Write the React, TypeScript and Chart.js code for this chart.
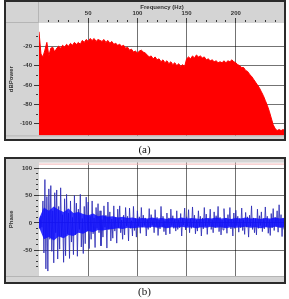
import React, { useEffect, useRef } from 'react';
import { Chart, registerables } from 'chart.js';

Chart.register(...registerables);

// ---------- data ----------
// (a) power spectrum, one value every 2 Hz from 0 to 250 Hz
const spectrumStepHz = 2;
const powerDb = [
  -5, -28, -31, -24, -16, -30, -22, -21, -26, -22,
  -20, -22, -19, -21, -18, -20, -17, -19, -16, -18,
  -16, -18, -14, -16, -13, -15, -12, -14, -12, -15,
  -13, -14, -15, -13, -16, -14, -17, -15, -18, -17,
  -19, -18, -20, -19, -22, -21, -24, -23, -26, -25,
  -27, -25, -24, -26, -27, -29, -31, -30, -33, -31,
  -34, -33, -36, -34, -37, -35, -38, -36, -39, -37,
  -40, -38, -41, -39, -41, -33, -31, -33, -30, -32,
  -29, -31, -30, -32, -31, -34, -33, -35, -34, -36,
  -35, -37, -36, -37, -35, -37, -35, -36, -34, -36,
  -37, -39, -40, -42, -42, -45, -46, -49, -51, -54,
  -57, -60, -63, -67, -71, -76, -81, -87, -94, -101,
  -105, -107, -106, -107, -106, -107,
];

// (b) phase, one value per Hz from 0 to 249 Hz
const phaseDeg = [
  6, -10, 12, -8, 40, -55, 79, -84, 48, -88,
  62, -30, 68, -52, 22, -73, 55, -18, 60, -66,
  30, -48, 64, -25, 15, -72, 44, -60, 52, -20,
  18, -65, 40, -35, 10, -58, 50, -22, 36, -61,
  25, -12, 52, -44, 8, -56, 30, -38, 47, -15,
  38, -47, 12, -30, 40, -20, 9, -45, 28, -10,
  35, -18, 22, -42, 6, -26, 31, -8, 14, -46,
  38, -12, 20, -33, 7, -28, 31, -15, 10, -37,
  25, -9, 31, -18, 5, -30, 14, -22, 28, -6,
  12, -33, 27, -10, 4, -24, 30, -14, 8, -26,
  22, -6, 11, -19, 28, -8, 14, -5, 9, -24,
  6, -12, 26, -9, 15, -4, 8, -18, 24, -7,
  10, -23, 5, -11, 30, -6, 12, -16, 4, -22,
  18, -8, 9, -20, 25, -5, 13, -10, 7, -15,
  22, -12, 6, -9, 17, -24, 8, -4, 27, -13,
  11, -6, 24, -18, 7, -10, 29, -8, 14, -20,
  5, -15, 22, -7, 12, -24, 9, -11, 28, -6,
  16, -21, 8, -5, 25, -12, 6, -18, 20, -9,
  13, -7, 30, -16, 10, -22, 5, -13, 26, -8,
  9, -19, 15, -6, 28, -11, 7, -24, 18, -10,
  23, -5, 12, -17, 8, -9, 27, -14, 6, -21,
  19, -8, 11, -26, 14, -6, 31, -12, 9, -18,
  7, -22, 25, -10, 13, -5, 20, -16, 8, -11,
  29, -7, 12, -19, 6, -23, 17, -9, 26, -14,
  10, -6, 22, -17, 33, -8, 15, -25, 9, -12,
];

// dense core of the phase band, every 5 Hz from 0 to 250 Hz
const coreStepHz = 5;
const coreUpper = [
  8, 28, 22, 30, 24, 20, 26, 18, 20, 16,
  14, 17, 12, 14, 11, 12, 10, 11, 9, 10,
  8, 9, 8, 10, 8, 9, 7, 9, 8, 10,
  8, 9, 8, 7, 9, 8, 10, 8, 9, 7,
  9, 8, 10, 8, 9, 7, 9, 8, 10, 8, 9,
];
const coreLower = [
  -8, -30, -26, -32, -25, -28, -22, -24, -18, -20,
  -15, -17, -13, -14, -12, -11, -10, -11, -9, -10,
  -9, -8, -9, -7, -9, -8, -10, -8, -9, -7,
  -9, -8, -10, -8, -9, -7, -9, -8, -10, -8,
  -9, -8, -7, -9, -8, -10, -8, -9, -7, -9, -8,
];

// axes
const freqMin = 0;
const freqMax = 250;
const freqLabels = [50, 100, 150, 200];
const powerMin = -112;
const powerMax = 4;
const powerLabels = [-20, -40, -60, -80, -100];
const phaseMin = -97;
const phaseMax = 110;
const phaseLabels = [100, 50, 0, -50];

// ---------- styles ----------
const GRAY = '#d4d4d4';
const GRID = 'rgba(0,0,0,0.55)';
const TICK = '#3a3a3a';
const FONT = { family: '"Liberation Sans", Arial, sans-serif', size: 6, weight: 'bold' as const };

const framePlugin = {
  id: 'frame',
  beforeDraw(chart: any) {
    const { ctx, width, height, chartArea: a } = chart;
    ctx.save();
    ctx.fillStyle = GRAY;
    ctx.fillRect(0, 0, width, height);
    ctx.fillStyle = '#ffffff';
    ctx.fillRect(a.left, a.top, a.right - a.left, a.bottom - a.top);
    ctx.strokeStyle = '#b5b5b5';
    ctx.lineWidth = 1;
    ctx.beginPath();
    if (a.top > 10) {
      ctx.moveTo(0, a.top - 0.5);
      ctx.lineTo(a.left, a.top - 0.5);
      ctx.moveTo(a.left - 0.5, 0);
      ctx.lineTo(a.left - 0.5, a.top);
    }
    if (height - a.bottom > 4) {
      ctx.moveTo(0, a.bottom + 0.5);
      ctx.lineTo(width, a.bottom + 0.5);
    }
    ctx.stroke();
    ctx.restore();
  },
  afterDraw(chart: any, _args: any, opts: any) {
    const { ctx, width, height, chartArea: a } = chart;
    ctx.save();
    if (opts && opts.topLine) {
      ctx.strokeStyle = opts.topLine;
      ctx.lineWidth = 1;
      ctx.beginPath();
      ctx.moveTo(a.left, a.top + 1.5);
      ctx.lineTo(a.right, a.top + 1.5);
      ctx.stroke();
    }
    ctx.strokeStyle = '#2b2b2b';
    ctx.lineWidth = 2;
    ctx.strokeRect(1, 1, width - 2, height - 2);
    ctx.restore();
  },
};

const keepTens = (lo: number, hi: number) => (s: any) => {
  s.ticks = s.ticks.filter((t: any) => t.value % 10 === 0 && t.value >= lo && t.value <= hi);
};

function configA(): any {
  const data = powerDb.map((y, i) => ({ x: i * spectrumStepHz, y }));
  return {
    type: 'line',
    data: {
      datasets: [
        {
          data,
          borderColor: '#ff0000',
          backgroundColor: '#ff0000',
          borderWidth: 1,
          pointRadius: 0,
          fill: 'start',
          tension: 0,
        },
      ],
    },
    options: {
      responsive: false,
      animation: false,
      events: [],
      layout: { padding: { left: 0, right: 1, top: 0, bottom: 2 } },
      plugins: { legend: { display: false }, tooltip: { enabled: false }, frame: {} },
      scales: {
        x: {
          type: 'linear',
          position: 'top',
          min: freqMin,
          max: freqMax,
          z: 1,
          afterBuildTicks: keepTens(freqMin + 1, freqMax - 1),
          afterFit: (s: any) => { s.height = 23; },
          border: { display: false },
          ticks: {
            stepSize: 10,
            autoSkip: false,
            maxRotation: 0,
            padding: 1,
            color: '#333',
            font: FONT,
            callback: (v: number) => (freqLabels.includes(v) ? String(v) : ''),
          },
          grid: {
            color: (c: any) => (freqLabels.includes(c.tick?.value) ? GRID : 'rgba(0,0,0,0)'),
            tickColor: TICK,
            tickLength: 5,
            tickBorderDash: (c: any) => (freqLabels.includes(c.tick?.value) ? [] : [0, 2, 2, 10]),
          },
          title: { display: true, text: 'Frequency (Hz)', color: '#333', font: FONT, padding: { top: 3.5, bottom: 0 } },
        },
        y: {
          type: 'linear',
          min: powerMin,
          max: powerMax,
          z: 1,
          afterBuildTicks: keepTens(-110, 0),
          afterFit: (s: any) => { s.width = 35; },
          border: { display: false },
          ticks: {
            stepSize: 10,
            autoSkip: false,
            padding: 2,
            color: '#333',
            font: FONT,
            callback: (v: number) => (powerLabels.includes(v) ? String(v) : ''),
          },
          grid: {
            color: (c: any) => (powerLabels.includes(c.tick?.value) ? GRID : 'rgba(0,0,0,0)'),
            tickColor: TICK,
            tickLength: 5,
            tickBorderDash: (c: any) => (powerLabels.includes(c.tick?.value) ? [] : [0, 2, 2, 10]),
          },
          title: { display: true, text: 'dBPower', color: '#333', font: FONT, padding: { top: 3.4, bottom: 0 } },
        },
      },
    },
    plugins: [framePlugin],
  };
}

function configB(): any {
  const phase = phaseDeg.map((y, i) => ({ x: i, y }));
  const up = coreUpper.map((y, i) => ({ x: i * coreStepHz, y }));
  const lo = coreLower.map((y, i) => ({ x: i * coreStepHz, y }));
  return {
    type: 'line',
    data: {
      datasets: [
        { data: up, borderWidth: 0, pointRadius: 0, fill: '+1', backgroundColor: 'rgba(15,15,255,0.85)', borderColor: 'rgba(0,0,0,0)' },
        { data: lo, borderWidth: 0, pointRadius: 0, fill: false, borderColor: 'rgba(0,0,0,0)' },
        { data: phase, borderWidth: 1, pointRadius: 0, fill: false, borderColor: 'rgba(40,40,180,0.8)', tension: 0 },
      ],
    },
    options: {
      responsive: false,
      animation: false,
      events: [],
      layout: { padding: { left: 0, right: 1, top: 2, bottom: 2 } },
      plugins: { legend: { display: false }, tooltip: { enabled: false }, frame: { topLine: '#f2b4b4' } },
      scales: {
        x: {
          type: 'linear',
          position: 'bottom',
          min: freqMin,
          max: freqMax,
          afterFit: (s: any) => { s.height = 6; },
          border: { display: false },
          ticks: { display: false, stepSize: 50 },
          grid: {
            color: (c: any) => (freqLabels.includes(c.tick?.value) ? GRID : 'rgba(0,0,0,0)'),
            drawTicks: false,
          },
        },
        y: {
          type: 'linear',
          min: phaseMin,
          max: phaseMax,
          afterBuildTicks: keepTens(-90, 100),
          afterFit: (s: any) => { s.width = 35; },
          border: { display: false },
          ticks: {
            stepSize: 10,
            autoSkip: false,
            padding: 2,
            color: '#333',
            font: FONT,
            callback: (v: number) => (phaseLabels.includes(v) ? String(v) : ''),
          },
          grid: {
            color: (c: any) => (phaseLabels.includes(c.tick?.value) ? GRID : 'rgba(0,0,0,0)'),
            tickColor: TICK,
            tickLength: 5,
            tickBorderDash: (c: any) => (phaseLabels.includes(c.tick?.value) ? [] : [0, 2, 2, 10]),
          },
          title: { display: true, text: 'Phase', color: '#333', font: FONT, padding: { top: 3.4, bottom: 0 } },
        },
      },
    },
    plugins: [framePlugin],
  };
}

const captionStyle: React.CSSProperties = {
  position: 'absolute',
  left: 0,
  width: 289,
  textAlign: 'center',
  fontFamily: '"Liberation Serif", "Times New Roman", serif',
  fontSize: 11,
  lineHeight: '13px',
  color: '#111',
  willChange: 'transform',
};

export default function App() {
  const aRef = useRef<HTMLCanvasElement>(null);
  const bRef = useRef<HTMLCanvasElement>(null);
  useEffect(() => {
    const a = new Chart(aRef.current as HTMLCanvasElement, configA());
    const b = new Chart(bRef.current as HTMLCanvasElement, configB());
    return () => {
      a.destroy();
      b.destroy();
    };
  }, []);
  return (
    <div style={{ position: 'absolute', left: 0, top: 0, width: 289, height: 299, background: '#fff', overflow: 'hidden' }}>
      <canvas ref={aRef} width={282} height={141} style={{ position: 'absolute', left: 4, top: 0 }} />
      <div style={{ ...captionStyle, top: 143 }}>(a)</div>
      <canvas ref={bRef} width={282} height={127} style={{ position: 'absolute', left: 4, top: 157 }} />
      <div style={{ ...captionStyle, top: 285 }}>(b)</div>
    </div>
  );
}
